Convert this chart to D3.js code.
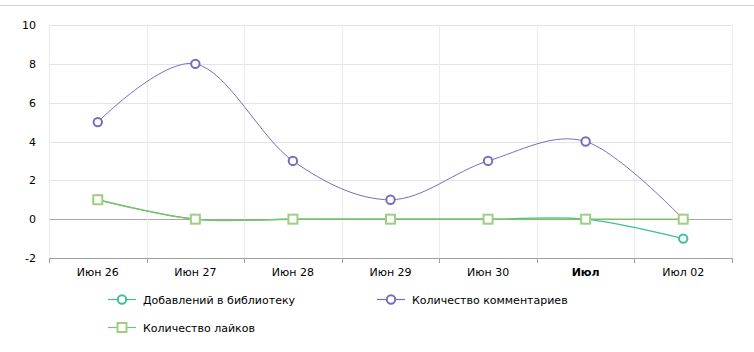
<!DOCTYPE html>
<html><head><meta charset="utf-8">
<script src="https://cdn.jsdelivr.net/npm/d3@7/dist/d3.min.js"></script>
<style>body{margin:0;background:#fff;}svg{display:block;font-family:"DejaVu Sans",Verdana,sans-serif;}</style>
</head><body>
<svg id="c" width="754" height="352"></svg>
<script>
const categories = ["Июн 26","Июн 27","Июн 28","Июн 29","Июн 30","Июл","Июл 02"];
const boldCats = ["Июл"];
const seriesNames = ["Добавлений в библиотеку","Количество комментариев","Количество лайков"];
const libraryAdds = [1,0,0,0,0,0,-1];
const comments = [5,8,3,1,3,4,0];
const likes = [1,0,0,0,0,0,0];
const yTicks = [-2,0,2,4,6,8,10];

const W=754,H=352;
const m={l:49,r:22,t:25,b:94};
const svg=d3.select("#c");
svg.append("line").attr("x1",0).attr("x2",W).attr("y1",5.5).attr("y2",5.5).attr("stroke","#d4d4d4");

const x=d3.scaleBand().domain(categories).range([m.l,W-m.r]);
const y=d3.scaleLinear().domain([-2,10]).range([H-m.b,m.t]);
const g=svg.append("g");
g.selectAll(".hg").data(yTicks).join("line")
 .attr("x1",m.l).attr("x2",W-m.r).attr("y1",d=>Math.round(y(d))+0.5).attr("y2",d=>Math.round(y(d))+0.5)
 .attr("stroke",d=>d===0?"#a8a8a8":"#e4e4e4");
const bounds=categories.map(c=>x(c)).concat([x.range()[1]]);
g.selectAll(".vg").data(bounds).join("line")
 .attr("x1",d=>Math.round(d)+0.5).attr("x2",d=>Math.round(d)+0.5).attr("y1",m.t).attr("y2",H-m.b)
 .attr("stroke","#ececec");
g.selectAll(".yl").data(yTicks).join("text")
 .attr("x",36).attr("y",d=>y(d)+4).attr("text-anchor","end").attr("font-size",11).attr("fill","#000").text(d=>d);
const xa=svg.append("g").attr("transform",`translate(0,${H-m.b})`);
xa.append("line").attr("x1",m.l).attr("x2",W-m.r).attr("y1",0.5).attr("y2",0.5).attr("stroke","#a0a0a0");
xa.selectAll(".tk").data(bounds).join("line").attr("x1",d=>Math.round(d)+0.5).attr("x2",d=>Math.round(d)+0.5).attr("y1",0).attr("y2",5).attr("stroke","#a0a0a0");
xa.selectAll(".xl").data(categories).join("text").attr("x",d=>x(d)+x.bandwidth()/2).attr("y",18)
 .attr("text-anchor","middle").attr("font-size",11).attr("font-weight",d=>boldCats.includes(d)?"bold":"normal").attr("fill","#000").text(d=>d);

const cx=c=>x(c)+x.bandwidth()/2;
const line=d3.line().x((d,i)=>cx(categories[i])).y(d=>y(d)).curve(d3.curveCatmullRom.alpha(0));
const colors={lib:"#3fbf98",com:"#7a6bbd",lik:"#7cc06c",likM:"#9fcd84"};
svg.append("path").attr("d",line(libraryAdds)).attr("fill","none").attr("stroke",colors.lib).attr("stroke-width",1.2);
svg.append("path").attr("d",line(comments)).attr("fill","none").attr("stroke",colors.com).attr("stroke-width",1);
svg.append("path").attr("d",line(likes)).attr("fill","none").attr("stroke",colors.lik).attr("stroke-width",1.5);

svg.selectAll(".m1").data(libraryAdds).join("circle").attr("cx",(d,i)=>cx(categories[i])).attr("cy",d=>y(d)).attr("r",4.2).attr("fill","#fff").attr("stroke",colors.lib).attr("stroke-width",2);
svg.selectAll(".m2").data(comments).join("circle").attr("cx",(d,i)=>cx(categories[i])).attr("cy",d=>y(d)).attr("r",4.2).attr("fill","#fff").attr("stroke",colors.com).attr("stroke-width",2);
svg.selectAll(".m3").data(likes).join("rect").attr("x",(d,i)=>cx(categories[i])-4.5).attr("y",d=>y(d)-4.5).attr("width",9).attr("height",9).attr("fill","#fff").attr("stroke",colors.likM).attr("stroke-width",2);

const leg=[{n:seriesNames[0],c:colors.lib,mk:"circle",x:108,y:299},{n:seriesNames[1],c:colors.com,mk:"circle",x:377,y:299},{n:seriesNames[2],c:colors.lik,mc:colors.likM,mk:"rect",x:108,y:327}];
leg.forEach(L=>{
 const lg=svg.append("g").attr("transform",`translate(${L.x},${L.y})`);
 lg.append("line").attr("x1",0).attr("x2",28).attr("y1",0.5).attr("y2",0.5).attr("stroke",L.c).attr("stroke-width",1.2);
 if(L.mk==="circle") lg.append("circle").attr("cx",14).attr("cy",0.5).attr("r",4.2).attr("fill","#fff").attr("stroke",L.c).attr("stroke-width",2);
 else lg.append("rect").attr("x",9.5).attr("y",-4).attr("width",9).attr("height",9).attr("fill","#fff").attr("stroke",L.mc).attr("stroke-width",2);
 lg.append("text").attr("x",35).attr("y",4.5).attr("font-size",11).attr("fill","#000").text(L.n);
});
</script></body></html>
